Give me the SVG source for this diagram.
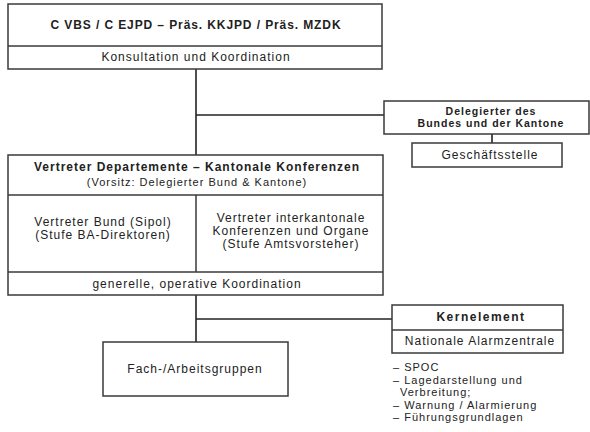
<svg xmlns="http://www.w3.org/2000/svg" width="590" height="432" viewBox="0 0 590 432">
<style>
.box{fill:#fff;stroke:#3a3a3a;stroke-width:1.5}
.div{stroke:#3a3a3a;stroke-width:1.5;fill:none}
.con{stroke:#222;stroke-width:1.6;fill:none}
text{font-family:"Liberation Sans",Arial,sans-serif;fill:#222;font-size:12px;letter-spacing:1px}
.c{text-anchor:middle}
.b{font-weight:bold}
.s{font-size:11px}
</style>
<rect width="590" height="432" fill="#fff"/>
<g id="connectors">
<line class="con" x1="196" y1="69" x2="196" y2="155"/>
<line class="con" x1="196" y1="115" x2="384" y2="115"/>
<line class="con" x1="492" y1="134" x2="492" y2="143"/>
<line class="con" x1="196" y1="295" x2="196" y2="342"/>
<line class="con" x1="196" y1="319" x2="392" y2="319"/>
</g>
<g id="top">
<rect class="box" x="8" y="4" width="374" height="65"/>
<line class="div" x1="8" y1="46" x2="382" y2="46"/>
<text class="c b" x="196" y="29" style="letter-spacing:0.9px">C VBS / C EJPD – Präs. KKJPD / Präs. MZDK</text>
<text class="c" x="196" y="61">Konsultation und Koordination</text>
</g>
<g id="delegierter">
<rect class="box" x="384" y="101" width="205" height="33"/>
<text class="c b" x="491" y="115" style="font-size:10.5px">Delegierter des</text>
<text class="c b" x="491" y="127" style="font-size:10.5px">Bundes und der Kantone</text>
</g>
<g id="geschaeftsstelle">
<rect class="box" x="412" y="143" width="150" height="24"/>
<text class="c" x="490" y="159">Geschäftsstelle</text>
</g>
<g id="middle">
<rect class="box" x="8" y="155" width="375" height="140"/>
<line class="div" x1="8" y1="195" x2="383" y2="195"/>
<line class="div" x1="8" y1="272" x2="383" y2="272"/>
<line class="div" x1="196" y1="195" x2="196" y2="272"/>
<text class="c b" x="197" y="171">Vertreter Departemente – Kantonale Konferenzen</text>
<text class="c s" x="197" y="186">(Vorsitz: Delegierter Bund &amp; Kantone)</text>
<text class="c" x="103" y="226">Vertreter Bund (Sipol)</text>
<text class="c" x="103" y="239">(Stufe BA-Direktoren)</text>
<text class="c" x="291" y="222">Vertreter interkantonale</text>
<text class="c" x="291" y="235">Konferenzen und Organe</text>
<text class="c" x="291" y="248">(Stufe Amtsvorsteher)</text>
<text class="c" x="197" y="288">generelle, operative Koordination</text>
</g>
<g id="fach">
<rect class="box" x="103" y="342" width="185" height="54"/>
<text class="c" x="195" y="373">Fach-/Arbeitsgruppen</text>
</g>
<g id="kernelement">
<rect class="box" x="392" y="305" width="171" height="48"/>
<line class="div" x1="392" y1="330" x2="563" y2="330"/>
<text class="c b" x="481" y="321" style="letter-spacing:1.5px">Kernelement</text>
<text class="c" x="480" y="345">Nationale Alarmzentrale</text>
</g>
<g id="list">
<text class="s" x="393" y="371">– SPOC</text>
<text class="s" x="393" y="384">– Lagedarstellung und</text>
<text class="s" x="400" y="396">Verbreitung;</text>
<text class="s" x="393" y="409">– Warnung / Alarmierung</text>
<text class="s" x="393" y="421">– Führungsgrundlagen</text>
</g>
</svg>
